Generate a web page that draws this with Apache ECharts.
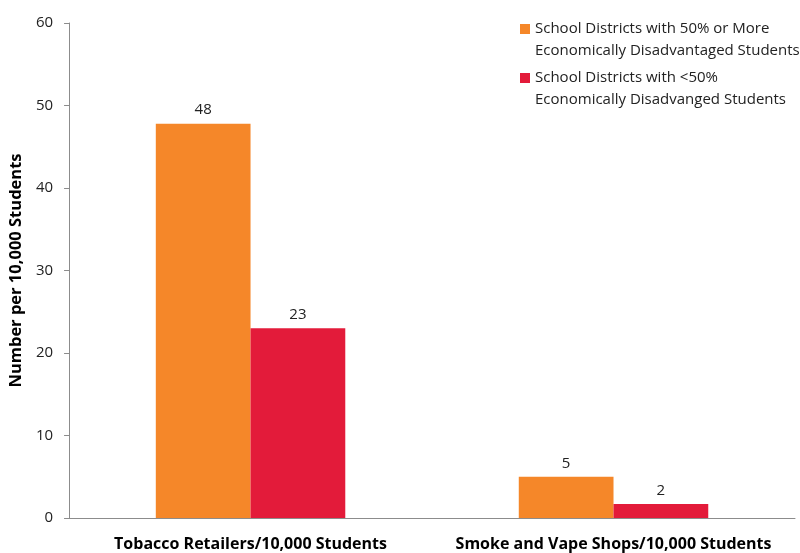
<!DOCTYPE html>
<html><head><meta charset="utf-8">
<script src="https://cdn.jsdelivr.net/npm/echarts@6/dist/echarts.min.js"></script>
<style>html,body{margin:0;padding:0;background:#fff}#c{width:800px;height:553px}</style>
</head><body><div id="c"></div>
<script>
const categories = ['Tobacco Retailers/10,000 Students', 'Smoke and Vape Shops/10,000 Students'];
const seriesNames = ['School Districts with 50% or More\nEconomically Disadvantaged Students', 'School Districts with <50%\nEconomically Disadvanged Students'];
const highPoverty = [47.8, 5.0];
const lowPoverty = [23.0, 1.7];
const yTicks = [0, 10, 20, 30, 40, 50, 60];
const colors = ['#F58729', '#E31B3A'];

const FONT = 'Open Sans';
const chart = echarts.init(document.getElementById('c'), null, {renderer: 'canvas'});
const legendCommon = {
  orient: 'vertical', left: 520, padding: 0, itemWidth: 10, itemHeight: 10,
  icon: 'rect',
  formatter: n => '\n' + n,
  textStyle: {fontFamily: FONT, fontSize: 15, color: '#222', lineHeight: 22}
};
chart.setOption({
  animation: false,
  textStyle: {fontFamily: FONT},
  legend: [
    Object.assign({}, legendCommon, {data: [seriesNames[0]], top: -4}),
    Object.assign({}, legendCommon, {data: [seriesNames[1]], top: 45})
  ],
  grid: {left: 67, right: 5, top: 23, bottom: 35, containLabel: false},
  xAxis: {
    type: 'category', data: categories,
    axisLine: {lineStyle: {color: '#8c8c8c', width: 1}},
    axisTick: {show: false},
    axisLabel: {interval: 0, fontFamily: FONT, fontSize: 16, fontWeight: 'bold', color: '#000', margin: 18, verticalAlign: 'top'}
  },
  yAxis: {
    type: 'value', min: yTicks[0], max: yTicks[yTicks.length - 1], interval: 10,
    name: 'Number per 10,000 Students', nameLocation: 'middle', nameGap: 40,
    nameTextStyle: {fontFamily: FONT, fontSize: 16.5, fontWeight: 'bold', color: '#000'},
    axisLine: {show: true, lineStyle: {color: '#8c8c8c', width: 1}},
    axisTick: {show: true, length: 5, lineStyle: {color: '#8c8c8c'}},
    splitLine: {show: false},
    axisLabel: {fontFamily: FONT, fontSize: 15, color: '#222', margin: 16}
  },
  series: [
    {name: seriesNames[0], type: 'bar', data: highPoverty, barGap: '0%', barCategoryGap: '47.8%',
     itemStyle: {color: colors[0]},
     label: {show: true, position: 'top', distance: 6, fontFamily: FONT, fontSize: 15, color: '#222',
             formatter: p => Math.round(p.value)}},
    {name: seriesNames[1], type: 'bar', data: lowPoverty, barGap: '0%', barCategoryGap: '47.8%',
     itemStyle: {color: colors[1]},
     label: {show: true, position: 'top', distance: 6, fontFamily: FONT, fontSize: 15, color: '#222',
             formatter: p => Math.round(p.value)}}
  ]
});
</script></body></html>
